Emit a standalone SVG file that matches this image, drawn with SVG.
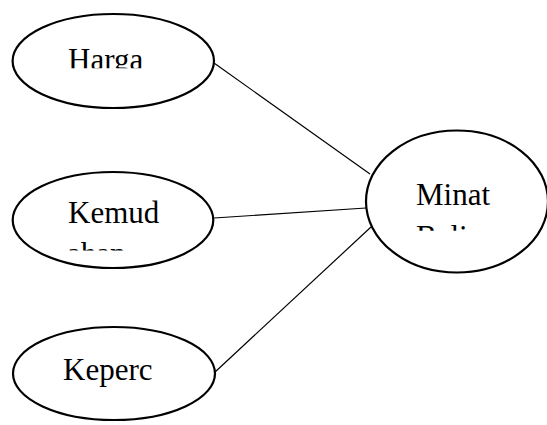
<svg xmlns="http://www.w3.org/2000/svg" width="547" height="425" viewBox="0 0 547 425">
<style>
.node ellipse{fill:#fff;stroke:#000;stroke-width:2.2}
.lbl{font-family:"Liberation Serif","Times New Roman",serif;font-size:31px;fill:#000}
#edges line{stroke:#000;stroke-width:1.2}
</style>
<defs>
<clipPath id="cH"><rect x="0" y="0" width="230" height="68.3"/></clipPath>
<clipPath id="cK"><rect x="0" y="160" width="230" height="90.5"/></clipPath>
<clipPath id="cM"><rect x="360" y="130" width="187" height="100.8"/></clipPath>
<clipPath id="cP"><rect x="0" y="320" width="230" height="72"/></clipPath>
</defs>
<rect width="547" height="425" fill="#fff"/>
<g id="edges">
<line x1="214" y1="63" x2="370" y2="174"/>
<line x1="214" y1="218" x2="366" y2="208"/>
<line x1="214" y1="373" x2="371" y2="227"/>
</g>
<g id="harga" class="node">
<ellipse cx="113.3" cy="61" rx="100.7" ry="47"/>
<text class="lbl" x="68" y="69.8" clip-path="url(#cH)">Harga</text>
</g>
<g id="kemudahan" class="node">
<ellipse cx="113" cy="220" rx="100.3" ry="48"/>
<g clip-path="url(#cK)">
<text class="lbl" x="68" y="223.3">Kemud</text>
<text class="lbl" x="67" y="263.5">ahan</text>
</g>
</g>
<g id="kepercayaan" class="node">
<ellipse cx="114" cy="373.5" rx="101" ry="46.5"/>
<text class="lbl" x="63" y="380" clip-path="url(#cP)">Keperc</text>
</g>
<g id="minat" class="node">
<ellipse cx="457" cy="201.5" rx="91" ry="71"/>
<g clip-path="url(#cM)">
<text class="lbl" x="416" y="205">Minat</text>
<text class="lbl" x="416" y="247">Beli</text>
</g>
</g>
</svg>
